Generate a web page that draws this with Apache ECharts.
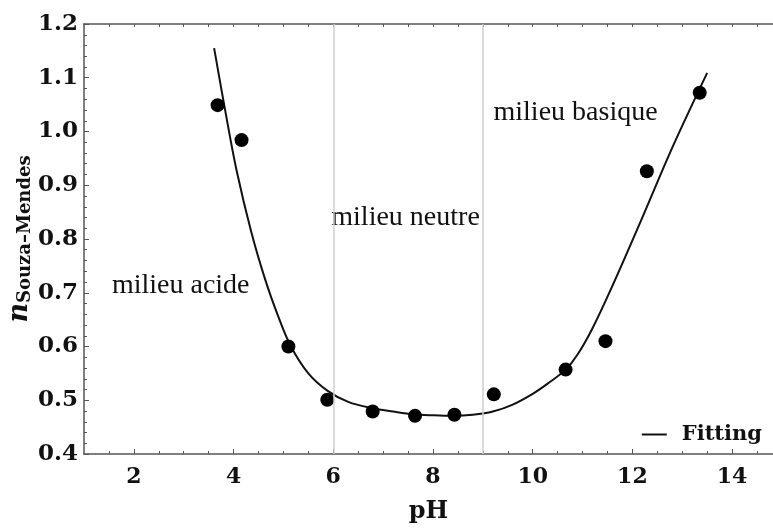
<!DOCTYPE html>
<html>
<head>
<meta charset="utf-8">
<script src="https://cdn.jsdelivr.net/npm/echarts@6/dist/echarts.min.js"></script>
<style>
  html, body { margin: 0; padding: 0; background: #fff; }
  #main { width: 773px; height: 530px; }
</style>
</head>
<body>
<div id="main"></div>
<script>
// measured points
var phData = [3.68, 4.16, 5.10, 5.88, 6.79, 7.64, 8.43, 9.22, 10.66, 11.46, 12.29, 13.35];
var nData = [1.049, 0.984, 0.600, 0.501, 0.479, 0.471, 0.473, 0.511, 0.557, 0.610, 0.926, 1.072];

// fitting curve
var fitPh = [3.61, 3.85, 4.06, 4.35, 4.64, 4.9, 5.14, 5.5, 5.88, 6.3, 6.79, 7.2, 7.6, 8.0, 8.4, 8.8, 9.2, 9.6, 10.0, 10.3, 10.66, 10.9, 11.2, 11.6, 12.19, 12.8, 13.5];
var fitN = [1.155, 1.03, 0.928, 0.815, 0.723, 0.655, 0.602, 0.55, 0.518, 0.497, 0.485, 0.479, 0.474, 0.472, 0.471, 0.473, 0.479, 0.492, 0.512, 0.531, 0.557, 0.585, 0.634, 0.713, 0.838, 0.97, 1.109];

var xTicks = [2, 4, 6, 8, 10, 12, 14];
var xMinorTicks = [1.5, 2.5, 3, 3.5, 4.5, 5, 5.5, 6.5, 7, 7.5, 8.5, 9, 9.5, 10.5, 11, 11.5, 12.5, 13, 13.5, 14.5];
var zoneLines = [6, 9];
var zoneNames = ['milieu acide', 'milieu neutre', 'milieu basique'];
var zonePh = [2.94, 7.45, 10.86];
var zoneN = [0.714, 0.839, 1.036];

var myChart = echarts.init(document.getElementById('main'));

var axisFont = 'DejaVu Serif';
var pairs = function (xs, ys) {
    return xs.map(function (x, i) { return [x, ys[i]]; });
};

var option = {
    animation: false,
    grid: {
        left: 84,
        right: 0,
        top: 24,
        bottom: 76,
        outerBoundsMode: 'none'
    },
    legend: {
        data: [{ name: 'Fitting', icon: 'rect' }],
        right: 6,
        top: 419,
        itemWidth: 25,
        itemHeight: 2,
        itemStyle: { color: '#111' },
        textStyle: {
            fontFamily: axisFont,
            fontWeight: 'bold',
            fontSize: 21,
            color: '#111',
            padding: [0, 0, 0, 10]
        }
    },
    xAxis: [
        {
            type: 'value',
            min: 1,
            max: 14.82,
            position: 'bottom',
            name: 'pH',
            nameLocation: 'middle',
            nameGap: 46,
            nameTextStyle: {
                fontFamily: axisFont,
                fontWeight: 'bold',
                fontSize: 24,
                color: '#111'
            },
            axisLine: { lineStyle: { color: '#555', width: 1.5 } },
            axisTick: { inside: true, length: 5, customValues: xTicks, lineStyle: { color: '#555' } },
            axisLabel: {
                customValues: xTicks,
                fontFamily: axisFont,
                fontWeight: 'bold',
                fontSize: 22,
                color: '#111',
                margin: 12
            },
            splitLine: { show: false }
        },
        {
            type: 'value',
            min: 1,
            max: 14.82,
            position: 'bottom',
            axisLine: { show: false },
            axisTick: { inside: true, length: 3, customValues: xMinorTicks, lineStyle: { color: '#555' } },
            axisLabel: { show: false },
            splitLine: { show: false }
        },
        {
            type: 'value',
            min: 1,
            max: 14.82,
            position: 'top',
            axisLine: { lineStyle: { color: '#555', width: 1.5 } },
            axisTick: { inside: true, length: 3, customValues: xMinorTicks.concat(xTicks), lineStyle: { color: '#555' } },
            axisLabel: { show: false },
            splitLine: { show: false }
        }
    ],
    yAxis: {
        type: 'value',
        min: 0.4,
        max: 1.2,
        interval: 0.1,
        name: '{n|n}{s|Souza\u2013Mendes}',
        nameLocation: 'middle',
        nameRotate: 90,
        nameGap: 50,
        nameMoveOverlap: false,
        nameTextStyle: {
            rich: {
                n: { fontFamily: axisFont, fontStyle: 'italic', fontWeight: 'bold', fontSize: 27, color: '#111' },
                s: { fontFamily: axisFont, fontWeight: 'bold', fontSize: 18, color: '#111', padding: [10, 0, 0, 0] }
            }
        },
        axisLine: { show: true, lineStyle: { color: '#555', width: 1.5 } },
        axisTick: { inside: true, length: 5, lineStyle: { color: '#555' } },
        minorTick: { show: true, splitNumber: 5, length: 3, lineStyle: { color: '#555' } },
        axisLabel: {
            fontFamily: axisFont,
            fontWeight: 'bold',
            fontSize: 23,
            color: '#111',
            margin: 6,
            formatter: function (v) { return v.toFixed(1); }
        },
        splitLine: { show: false }
    },
    series: [
        {
            name: 'Fitting',
            type: 'line',
            data: pairs(fitPh, fitN),
            smooth: 0.35,
            symbol: 'none',
            lineStyle: { color: '#111', width: 2 },
            itemStyle: { color: '#111' },
            markLine: {
                silent: true,
                symbol: 'none',
                label: { show: false },
                lineStyle: { color: '#cfcfcf', width: 1.5, type: 'solid' },
                data: zoneLines.map(function (v) { return { xAxis: v }; })
            },
            z: 3
        },
        {
            name: 'Data',
            type: 'scatter',
            data: pairs(phData, nData),
            symbolSize: 14,
            itemStyle: { color: '#000', opacity: 1 },
            z: 4
        },
        {
            name: 'zones',
            type: 'scatter',
            symbolSize: 0,
            silent: true,
            itemStyle: { opacity: 1 },
            data: zonePh.map(function (x, i) { return { value: [x, zoneN[i]], name: zoneNames[i] }; }),
            label: {
                show: true,
                position: 'inside',
                formatter: '{b}',
                fontFamily: 'Liberation Serif',
                fontSize: 28,
                color: '#111'
            }
        }
    ]
};

myChart.setOption(option);
</script>
</body>
</html>
